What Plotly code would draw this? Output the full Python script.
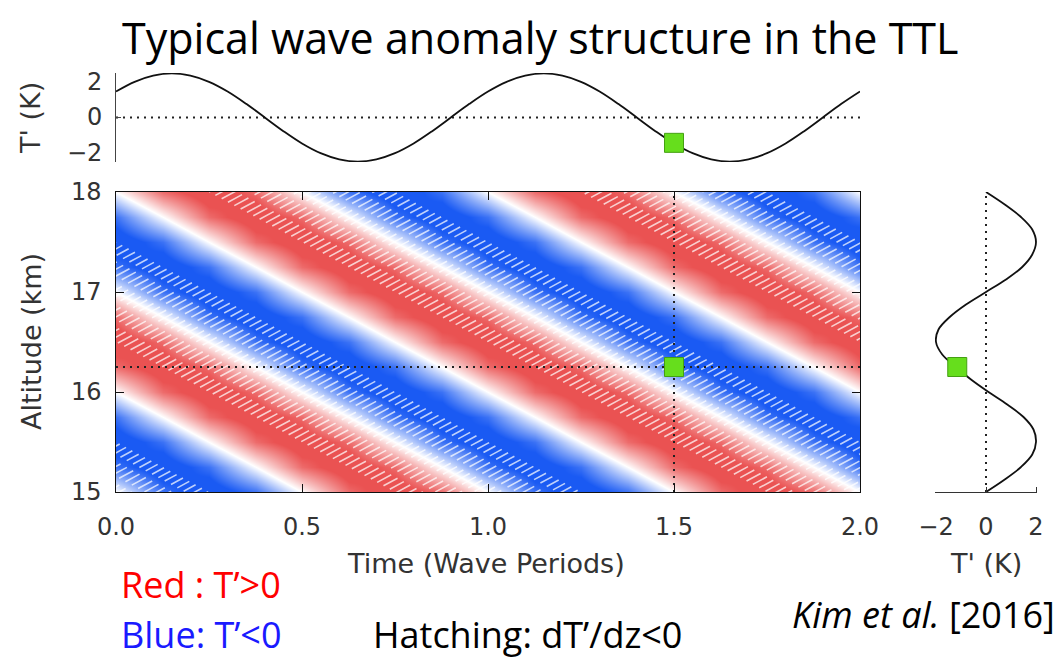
import plotly.graph_objects as go

W, H = 1061, 659
OFF = 8                       # page body margin in the browser
FW, FH = W - OFF, H - OFF     # figure size so that it fills the window

# ---------------- data ----------------
# heat-map grid: time (wave periods) x altitude (km), values T' (K)
times = [0.0, 0.125, 0.25, 0.375, 0.5, 0.625, 0.75, 0.875, 1.0,
         1.125, 1.25, 1.375, 1.5, 1.625, 1.75, 1.875, 2.0]
alts = [15.0, 15.25, 15.5, 15.75, 16.0, 16.25, 16.5, 16.75, 17.0,
        17.25, 17.5, 17.75, 18.0]
T_field = [
    [0, -1.4, -2, -1.4, 0, 1.4, 2, 1.4, 0, -1.4, -2, -1.4, 0, 1.4, 2, 1.4, 0],
    [-1.4, -2, -1.4, 0, 1.4, 2, 1.4, 0, -1.4, -2, -1.4, 0, 1.4, 2, 1.4, 0, -1.4],
    [-2, -1.4, 0, 1.4, 2, 1.4, 0, -1.4, -2, -1.4, 0, 1.4, 2, 1.4, 0, -1.4, -2],
    [-1.4, 0, 1.4, 2, 1.4, 0, -1.4, -2, -1.4, 0, 1.4, 2, 1.4, 0, -1.4, -2, -1.4],
    [0, 1.4, 2, 1.4, 0, -1.4, -2, -1.4, 0, 1.4, 2, 1.4, 0, -1.4, -2, -1.4, 0],
    [1.4, 2, 1.4, 0, -1.4, -2, -1.4, 0, 1.4, 2, 1.4, 0, -1.4, -2, -1.4, 0, 1.4],
    [2, 1.4, 0, -1.4, -2, -1.4, 0, 1.4, 2, 1.4, 0, -1.4, -2, -1.4, 0, 1.4, 2],
    [1.4, 0, -1.4, -2, -1.4, 0, 1.4, 2, 1.4, 0, -1.4, -2, -1.4, 0, 1.4, 2, 1.4],
    [0, -1.4, -2, -1.4, 0, 1.4, 2, 1.4, 0, -1.4, -2, -1.4, 0, 1.4, 2, 1.4, 0],
    [-1.4, -2, -1.4, 0, 1.4, 2, 1.4, 0, -1.4, -2, -1.4, 0, 1.4, 2, 1.4, 0, -1.4],
    [-2, -1.4, 0, 1.4, 2, 1.4, 0, -1.4, -2, -1.4, 0, 1.4, 2, 1.4, 0, -1.4, -2],
    [-1.4, 0, 1.4, 2, 1.4, 0, -1.4, -2, -1.4, 0, 1.4, 2, 1.4, 0, -1.4, -2, -1.4],
    [0, 1.4, 2, 1.4, 0, -1.4, -2, -1.4, 0, 1.4, 2, 1.4, 0, -1.4, -2, -1.4, 0],
]

# top panel: T'(t) at the marked altitude
top_t = [0.0, 0.05, 0.1, 0.15, 0.2, 0.25, 0.3, 0.35, 0.4, 0.45, 0.5,
         0.55, 0.6, 0.65, 0.7, 0.75, 0.8, 0.85, 0.9, 0.95, 1.0,
         1.05, 1.1, 1.15, 1.2, 1.25, 1.3, 1.35, 1.4, 1.45, 1.5,
         1.55, 1.6, 1.65, 1.7, 1.75, 1.8, 1.85, 1.9, 1.95, 2.0]
top_T = [1.18, 1.62, 1.9, 2.0, 1.9, 1.62, 1.18, 0.62, 0.0, -0.62, -1.18,
         -1.62, -1.9, -2.0, -1.9, -1.62, -1.18, -0.62, 0.0, 0.62, 1.18,
         1.62, 1.9, 2.0, 1.9, 1.62, 1.18, 0.62, 0.0, -0.62, -1.18,
         -1.62, -1.9, -2.0, -1.9, -1.62, -1.18, -0.62, 0.0, 0.62, 1.18]

# right panel: T'(z) at the marked time
right_z = [15.0, 15.125, 15.25, 15.375, 15.5, 15.625, 15.75, 15.875, 16.0,
           16.125, 16.25, 16.375, 16.5, 16.625, 16.75, 16.875, 17.0,
           17.125, 17.25, 17.375, 17.5, 17.625, 17.75, 17.875, 18.0]
right_T = [0.0, 0.75, 1.4, 1.85, 2.0, 1.9, 1.5, 0.85, 0.1,
           -0.6, -1.2, -1.75, -2.0, -1.9, -1.45, -0.8, 0.0,
           0.8, 1.45, 1.85, 2.0, 1.85, 1.4, 0.75, 0.0]

# marked sample point
point_t = [1.5]
point_z = [16.25]
point_T = [-1.15]

# tick values
main_xticks = [0, 0.5, 1, 1.5, 2]
main_yticks = [15, 16, 17, 18]
temp_ticks = [-2, 0, 2]

# dT'/dz<0 bands: lower edge (warm crest) altitude extrapolated to t=0,
# band depth and downward phase descent (km per wave period)
hatch_crest_alt_t0 = [14.5, 16.5, 18.5, 20.5]
band_depth_km = 1.0
band_descent = 2.0

# ---------------- styling ----------------
TICK_FONT = dict(family="DejaVu Sans", size=24, color="#333333")
TITLE_FONT = dict(family="DejaVu Sans", size=27, color="#333333")
TXT_FONT = "Open Sans"
GREEN = "#66de1c"
GREEN_EDGE = "#44a012"


def px(x):
    """screen pixel (reference picture) -> paper x"""
    return (x - OFF) / FW


def py(y):
    """screen pixel (reference picture) -> paper y"""
    return 1 - (y - OFF) / FH


def num(v):
    return ("\u2212" + str(abs(v))) if v < 0 else str(v)


fig = go.Figure()

# heat map
BLUE, RED = "rgb(26,90,243)", "rgb(234,82,82)"
fig.add_trace(go.Heatmap(
    x=times, y=alts, z=T_field, zmin=-2, zmax=2, zsmooth="best",
    colorscale=[[0, BLUE], [0.09, BLUE], [0.5, "rgb(255,255,255)"],
                [0.91, RED], [1, RED]],
    showscale=False, hoverinfo="skip", xaxis="x", yaxis="y"))

# hatching (short white strokes) inside the dT'/dz<0 bands
hs = 2.0          # stroke slope (km per period)
step = 0.068      # spacing of strokes
hx, hy = [], []
for c1 in hatch_crest_alt_t0:
    c2 = c1 + band_depth_km
    b = 9.0
    while b < 19.5:
        t0 = (c1 - b) / (hs + band_descent)
        t1 = (c2 - b) / (hs + band_descent)
        z0 = b + hs * t0
        z1 = b + hs * t1
        if t1 > -0.05 and t0 < 2.05 and z1 > 14.95 and z0 < 18.05:
            hx += [t0, t1, None]
            hy += [z0, z1, None]
        b += step
fig.add_trace(go.Scatter(
    x=hx, y=hy, mode="lines", hoverinfo="skip", showlegend=False,
    line=dict(color="rgba(255,255,255,0.72)", width=1.6, dash="16px,7px"),
    xaxis="x", yaxis="y"))

DOT = dict(color="#222222", width=2, dash="2px,5px")
# dotted guide lines through the marked point
fig.add_trace(go.Scatter(x=[times[0], times[-1]], y=point_z * 2, mode="lines",
                         line=DOT, hoverinfo="skip", xaxis="x", yaxis="y"))
fig.add_trace(go.Scatter(x=point_t * 2, y=[alts[0], alts[-1]], mode="lines",
                         line=DOT, hoverinfo="skip", xaxis="x", yaxis="y"))
MARK = dict(symbol="square", size=19, color=GREEN,
            line=dict(color=GREEN_EDGE, width=1))
fig.add_trace(go.Scatter(x=point_t, y=point_z, mode="markers", marker=MARK,
                         hoverinfo="skip", xaxis="x", yaxis="y"))

# top panel
fig.add_trace(go.Scatter(x=[top_t[0], top_t[-1]], y=[0, 0], mode="lines",
                         line=DOT, hoverinfo="skip", xaxis="x2", yaxis="y2"))
fig.add_trace(go.Scatter(x=top_t, y=top_T, mode="lines",
                         line=dict(color="#111111", width=1.8, shape="spline"),
                         hoverinfo="skip", xaxis="x2", yaxis="y2"))
fig.add_trace(go.Scatter(x=point_t, y=point_T, mode="markers", marker=MARK,
                         hoverinfo="skip", xaxis="x2", yaxis="y2"))

# right panel
fig.add_trace(go.Scatter(x=[0, 0], y=[right_z[0], right_z[-1]], mode="lines",
                         line=DOT, hoverinfo="skip", xaxis="x3", yaxis="y3"))
fig.add_trace(go.Scatter(x=right_T, y=right_z, mode="lines",
                         line=dict(color="#111111", width=1.8, shape="spline"),
                         hoverinfo="skip", xaxis="x3", yaxis="y3"))
fig.add_trace(go.Scatter(x=point_T, y=point_z, mode="markers", marker=MARK,
                         hoverinfo="skip", xaxis="x3", yaxis="y3"))

main_ax = dict(showline=True, linecolor="#111111", linewidth=1.3,
               mirror="ticks", ticks="inside", ticklen=8, tickwidth=1.2,
               tickcolor="#111111", showgrid=False, zeroline=False,
               tickfont=TICK_FONT, automargin=False)

fig.update_layout(
    width=FW, height=FH, margin=dict(l=0, r=0, t=0, b=0),
    paper_bgcolor="white", plot_bgcolor="white", showlegend=False,
    xaxis=dict(domain=[px(116), px(860)], range=[0, 2],
               tickvals=main_xticks, tickformat=".1f",
               ticklabelstandoff=13, anchor="y", **main_ax),
    yaxis=dict(domain=[py(492), py(192)], range=[15, 18],
               tickvals=main_yticks, showticklabels=False,
               anchor="x", **main_ax),
    xaxis2=dict(domain=[px(116), px(860)], range=[0, 2], visible=False,
                anchor="y2"),
    yaxis2=dict(domain=[py(162), py(73)], range=[-2.02, 2.02],
                showline=True, linecolor="#444444", linewidth=1.2,
                ticks="inside", ticklen=5, tickcolor="#444444",
                tickvals=temp_ticks, showticklabels=False,
                showgrid=False, zeroline=False, anchor="x2",
                automargin=False),
    xaxis3=dict(domain=[px(935), px(1037)], range=[-2.04, 2.04],
                showline=True, linecolor="#333333", linewidth=1.3,
                ticks="inside", ticklen=5, tickcolor="#333333",
                tickvals=temp_ticks, tickfont=TICK_FONT, ticklabelstandoff=13,
                showgrid=False, zeroline=False, anchor="y3",
                automargin=False),
    yaxis3=dict(domain=[py(492), py(192)], range=[15, 18], visible=False,
                anchor="x3"),
)

ann = []
# top panel tick labels (set slightly inside the tick marks as in the original)
for v, shift in zip(temp_ticks, [9, 0, -9]):
    ann.append(dict(x=px(104), xref="paper", y=v, yref="y2", text=num(v),
                    showarrow=False, xanchor="right", yanchor="middle",
                    yshift=shift, font=TICK_FONT))
# main altitude tick labels
for v in main_yticks:
    ann.append(dict(x=px(104), xref="paper", y=v, yref="y", text=num(v),
                    showarrow=False, xanchor="right", yanchor="middle",
                    font=TICK_FONT))
# axis titles
titles = [
    dict(x=px(30), y=py(118), text="T' (K)", textangle=-90),
    dict(x=px(31), y=py(342), text="Altitude (km)", textangle=-90),
    dict(x=px(486), y=py(563), text="Time (Wave Periods)"),
    dict(x=px(986), y=py(563), text="T' (K)"),
]
for a in titles:
    a.update(xref="paper", yref="paper", showarrow=False, font=TITLE_FONT,
             xanchor="center", yanchor="middle")
ann += titles
# title and notes
NOTE = 36
notes = [
    dict(x=px(540), y=py(37.5), text="Typical wave anomaly structure in the TTL",
         xanchor="center", font=dict(family=TXT_FONT, size=43, color="black")),
    dict(x=px(120), y=py(584), text="Red : T\u2019>0", xanchor="left",
         font=dict(family=TXT_FONT, size=NOTE, color="#ff0000")),
    dict(x=px(120), y=py(634), text="Blue: T\u2019<0", xanchor="left",
         font=dict(family=TXT_FONT, size=NOTE, color="#1a1aff")),
    dict(x=px(372), y=py(634), text="Hatching: dT\u2019/dz<0", xanchor="left",
         font=dict(family=TXT_FONT, size=NOTE, color="black")),
    dict(x=px(1056), y=py(614), text="<i>Kim et al.</i> [2016]",
         xanchor="right", font=dict(family=TXT_FONT, size=NOTE, color="black")),
]
for a in notes:
    a.update(xref="paper", yref="paper", showarrow=False, yanchor="middle",
             borderpad=0)
ann += notes
fig.update_layout(annotations=ann)

fig.write_html("out.html")
